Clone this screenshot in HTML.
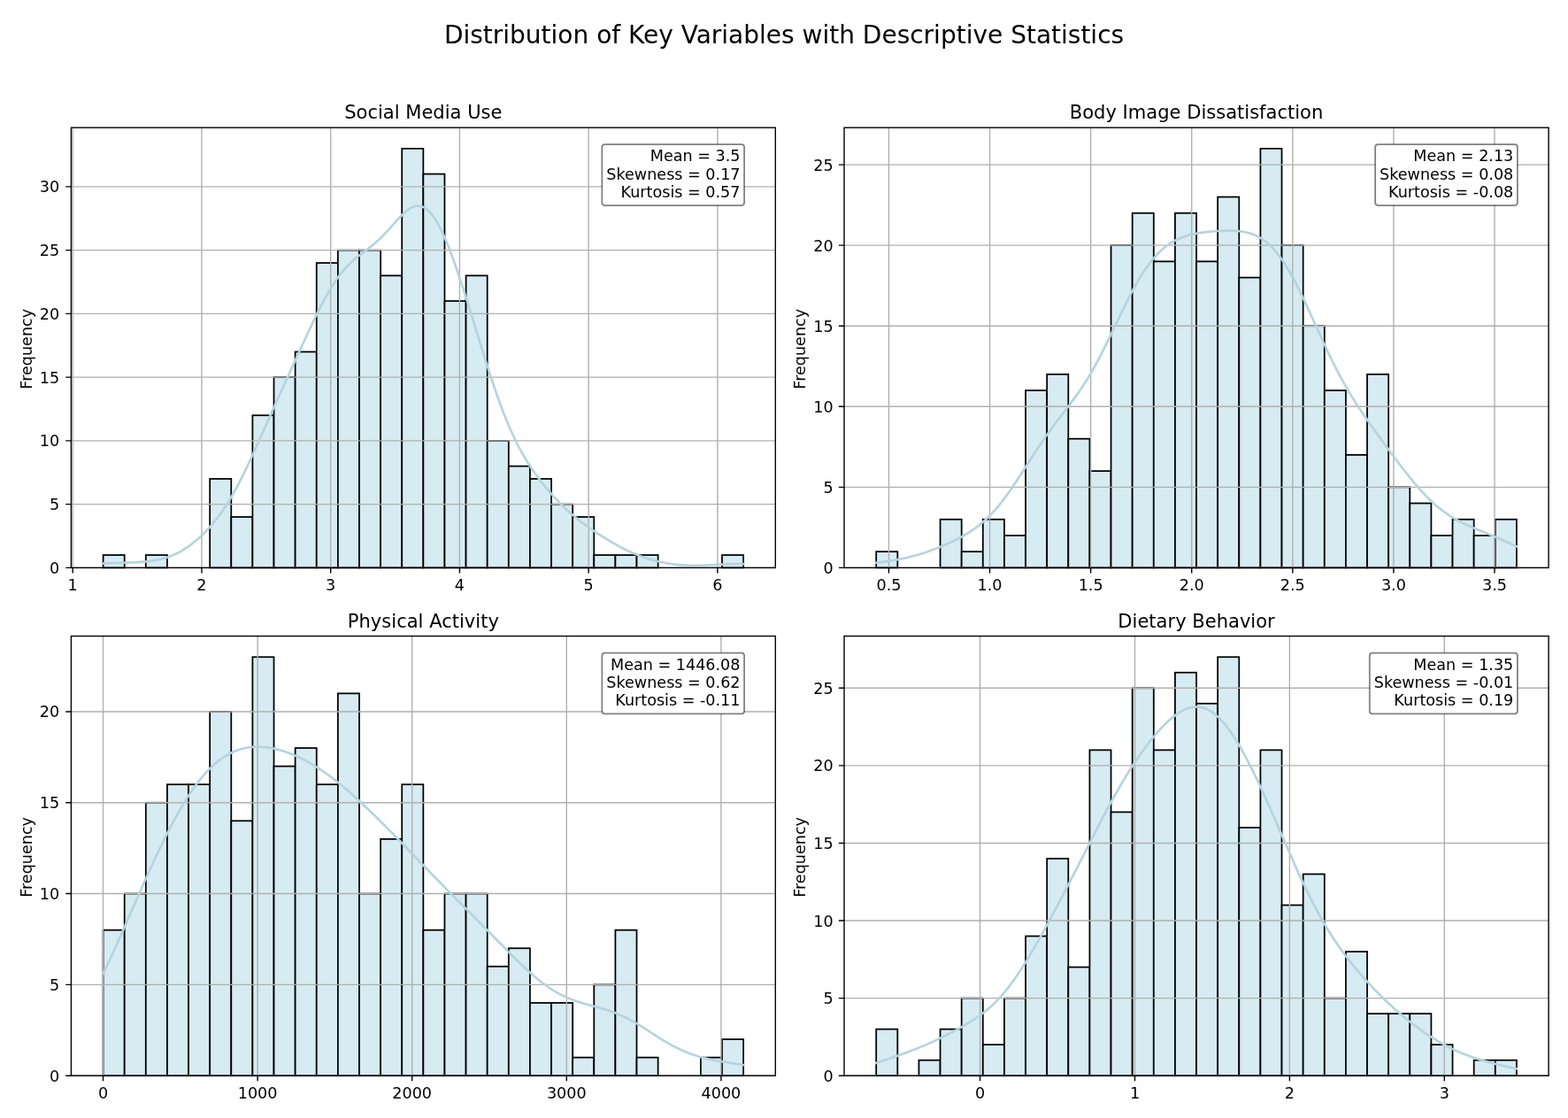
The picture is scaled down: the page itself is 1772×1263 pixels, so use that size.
<!DOCTYPE html>
<html><head><meta charset="utf-8"><title>Distribution of Key Variables with Descriptive Statistics</title>
<style>html,body{margin:0;padding:0;background:#fff;} svg text{font-family:"DejaVu Sans", "Liberation Sans", sans-serif;}</style>
</head><body>
<svg width="1772" height="1263" viewBox="0 0 1772 1263" style="display:block">
<rect x="0" y="0" width="1772" height="1263" fill="#fff"/>
<text x="886" y="49.2" text-anchor="middle" font-size="28.0" fill="#000">Distribution of Key Variables with Descriptive Statistics</text>
<g fill="rgb(214,235,242)" stroke="#000" stroke-width="1.76"><rect x="116.58" y="627.05" width="24.12" height="14.35"/><rect x="164.81" y="627.05" width="24.12" height="14.35"/><rect x="237.17" y="540.96" width="24.12" height="100.44"/><rect x="261.29" y="584" width="24.12" height="57.4"/><rect x="285.4" y="469.21" width="24.12" height="172.19"/><rect x="309.52" y="426.16" width="24.12" height="215.24"/><rect x="333.64" y="397.46" width="24.12" height="243.94"/><rect x="357.76" y="297.02" width="24.12" height="344.38"/><rect x="381.88" y="282.67" width="24.12" height="358.73"/><rect x="406" y="282.67" width="24.12" height="358.73"/><rect x="430.11" y="311.37" width="24.12" height="330.03"/><rect x="454.23" y="167.88" width="24.12" height="473.52"/><rect x="478.35" y="196.57" width="24.12" height="444.83"/><rect x="502.47" y="340.07" width="24.12" height="301.33"/><rect x="526.59" y="311.37" width="24.12" height="330.03"/><rect x="550.7" y="497.91" width="24.12" height="143.49"/><rect x="574.82" y="526.61" width="24.12" height="114.79"/><rect x="598.94" y="540.96" width="24.12" height="100.44"/><rect x="623.06" y="569.65" width="24.12" height="71.75"/><rect x="647.18" y="584" width="24.12" height="57.4"/><rect x="671.3" y="627.05" width="24.12" height="14.35"/><rect x="695.41" y="627.05" width="24.12" height="14.35"/><rect x="719.53" y="627.05" width="24.12" height="14.35"/><rect x="816" y="627.05" width="24.12" height="14.35"/></g>
<path d="M82.2 144.2V641.4M227.94 144.2V641.4M373.68 144.2V641.4M519.42 144.2V641.4M665.16 144.2V641.4M810.9 144.2V641.4M80.4 641.4H876.3M80.4 569.65H876.3M80.4 497.91H876.3M80.4 426.16H876.3M80.4 354.42H876.3M80.4 282.67H876.3M80.4 210.92H876.3" stroke="#b0b0b0" stroke-width="1.4" fill="none"/>
<path d="M116.58 636.52 L120.21 636.36 L123.85 636.21 L127.48 636.1 L131.12 636 L134.76 635.91 L138.39 635.83 L142.03 635.74 L145.66 635.63 L149.3 635.51 L152.94 635.35 L156.57 635.15 L160.21 634.89 L163.84 634.57 L167.48 634.17 L171.12 633.69 L174.75 633.1 L178.39 632.4 L182.02 631.57 L185.66 630.59 L189.3 629.45 L192.93 628.14 L196.57 626.65 L200.2 624.96 L203.84 623.06 L207.47 620.95 L211.11 618.63 L214.75 616.09 L218.38 613.33 L222.02 610.35 L225.65 607.14 L229.29 603.7 L232.93 600.03 L236.56 596.11 L240.2 591.93 L243.83 587.47 L247.47 582.71 L251.11 577.65 L254.74 572.25 L258.38 566.51 L262.01 560.43 L265.65 554 L269.29 547.24 L272.92 540.18 L276.56 532.83 L280.19 525.23 L283.83 517.44 L287.46 509.49 L291.1 501.43 L294.74 493.31 L298.37 485.15 L302.01 477 L305.64 468.88 L309.28 460.79 L312.92 452.74 L316.55 444.73 L320.19 436.75 L323.82 428.79 L327.46 420.83 L331.1 412.87 L334.73 404.91 L338.37 396.95 L342 389.01 L345.64 381.11 L349.28 373.27 L352.91 365.55 L356.55 357.99 L360.18 350.63 L363.82 343.53 L367.45 336.73 L371.09 330.28 L374.73 324.21 L378.36 318.56 L382 313.33 L385.63 308.54 L389.27 304.18 L392.91 300.22 L396.54 296.62 L400.18 293.34 L403.81 290.3 L407.45 287.44 L411.09 284.68 L414.72 281.93 L418.36 279.12 L421.99 276.19 L425.63 273.07 L429.27 269.73 L432.9 266.15 L436.54 262.36 L440.17 258.39 L443.81 254.32 L447.44 250.23 L451.08 246.25 L454.72 242.52 L458.35 239.17 L461.99 236.36 L465.62 234.23 L469.26 232.91 L472.9 232.52 L476.53 233.13 L480.17 234.82 L483.8 237.61 L487.44 241.5 L491.08 246.46 L494.71 252.44 L498.35 259.37 L501.98 267.18 L505.62 275.76 L509.26 285.04 L512.89 294.9 L516.53 305.27 L520.16 316.06 L523.8 327.2 L527.43 338.61 L531.07 350.21 L534.71 361.95 L538.34 373.76 L541.98 385.56 L545.61 397.28 L549.25 408.86 L552.89 420.22 L556.52 431.28 L560.16 441.99 L563.79 452.28 L567.43 462.11 L571.07 471.44 L574.7 480.25 L578.34 488.52 L581.97 496.28 L585.61 503.54 L589.25 510.32 L592.88 516.67 L596.52 522.63 L600.15 528.24 L603.79 533.56 L607.42 538.6 L611.06 543.42 L614.7 548.04 L618.33 552.46 L621.97 556.72 L625.6 560.81 L629.24 564.74 L632.88 568.52 L636.51 572.13 L640.15 575.59 L643.78 578.9 L647.42 582.06 L651.06 585.08 L654.69 587.97 L658.33 590.75 L661.96 593.43 L665.6 596.02 L669.24 598.53 L672.87 600.97 L676.51 603.35 L680.14 605.68 L683.78 607.95 L687.41 610.17 L691.05 612.32 L694.69 614.42 L698.32 616.45 L701.96 618.4 L705.59 620.27 L709.23 622.05 L712.87 623.74 L716.5 625.34 L720.14 626.84 L723.77 628.24 L727.41 629.55 L731.05 630.76 L734.68 631.88 L738.32 632.91 L741.95 633.84 L745.59 634.7 L749.23 635.47 L752.86 636.15 L756.5 636.76 L760.13 637.29 L763.77 637.74 L767.4 638.11 L771.04 638.41 L774.68 638.64 L778.31 638.79 L781.95 638.88 L785.58 638.91 L789.22 638.87 L792.86 638.79 L796.49 638.65 L800.13 638.49 L803.76 638.3 L807.4 638.09 L811.04 637.88 L814.67 637.67 L818.31 637.49 L821.94 637.33 L825.58 637.2 L829.22 637.12 L832.85 637.09 L836.49 637.11 L840.12 637.17" stroke="rgb(180,212,222)" stroke-width="2.64" fill="none" stroke-linecap="square" stroke-linejoin="round"/>
<rect x="80.4" y="144.2" width="795.9" height="497.2" fill="none" stroke="#000" stroke-width="1.4" stroke-linecap="square"/>
<path d="M82.2 641.4v6.15M227.94 641.4v6.15M373.68 641.4v6.15M519.42 641.4v6.15M665.16 641.4v6.15M810.9 641.4v6.15M80.4 641.4h-6.15M80.4 569.65h-6.15M80.4 497.91h-6.15M80.4 426.16h-6.15M80.4 354.42h-6.15M80.4 282.67h-6.15M80.4 210.92h-6.15" stroke="#000" stroke-width="1.4" fill="none"/>
<g font-size="17.58" fill="#000"><text x="82.2" y="667.2" text-anchor="middle">1</text><text x="227.94" y="667.2" text-anchor="middle">2</text><text x="373.68" y="667.2" text-anchor="middle">3</text><text x="519.42" y="667.2" text-anchor="middle">4</text><text x="665.16" y="667.2" text-anchor="middle">5</text><text x="810.9" y="667.2" text-anchor="middle">6</text><text x="67.1" y="647.9" text-anchor="end">0</text><text x="67.1" y="576.15" text-anchor="end">5</text><text x="67.1" y="504.41" text-anchor="end">10</text><text x="67.1" y="432.66" text-anchor="end">15</text><text x="67.1" y="360.92" text-anchor="end">20</text><text x="67.1" y="289.17" text-anchor="end">25</text><text x="67.1" y="217.42" text-anchor="end">30</text></g>
<text x="478.35" y="134.2" text-anchor="middle" font-size="21.05" fill="#000">Social Media Use</text>
<text transform="translate(36.1 394.3) rotate(-90)" x="0" y="0" text-anchor="middle" font-size="17.58" fill="#000">Frequency</text>
<path d="M683.57 163.16H837.9Q841.1 163.16 841.1 166.36V228.86Q841.1 232.06 837.9 232.06H683.57Q680.37 232.06 680.37 228.86V166.36Q680.37 163.16 683.57 163.16Z" fill="#fff" stroke="#000" stroke-opacity="0.5" stroke-width="1.76"/>
<g font-size="17.58" fill="#000"><text x="836.5" y="182.46" text-anchor="end">Mean = 3.5</text><text x="836.5" y="202.66" text-anchor="end">Skewness = 0.17</text><text x="836.5" y="222.86" text-anchor="end">Kurtosis = 0.57</text></g>
<g fill="rgb(214,235,242)" stroke="#000" stroke-width="1.76"><rect x="990.19" y="623.19" width="24.12" height="18.21"/><rect x="1062.56" y="586.76" width="24.12" height="54.64"/><rect x="1086.68" y="623.19" width="24.12" height="18.21"/><rect x="1110.81" y="586.76" width="24.12" height="54.64"/><rect x="1134.93" y="604.98" width="24.12" height="36.42"/><rect x="1159.06" y="441.06" width="24.12" height="200.34"/><rect x="1183.18" y="422.85" width="24.12" height="218.55"/><rect x="1207.3" y="495.7" width="24.12" height="145.7"/><rect x="1231.43" y="532.13" width="24.12" height="109.27"/><rect x="1255.55" y="277.15" width="24.12" height="364.25"/><rect x="1279.68" y="240.73" width="24.12" height="400.67"/><rect x="1303.8" y="295.36" width="24.12" height="346.04"/><rect x="1327.93" y="240.73" width="24.12" height="400.67"/><rect x="1352.05" y="295.36" width="24.12" height="346.04"/><rect x="1376.17" y="222.51" width="24.12" height="418.89"/><rect x="1400.3" y="313.58" width="24.12" height="327.82"/><rect x="1424.42" y="167.88" width="24.12" height="473.52"/><rect x="1448.55" y="277.15" width="24.12" height="364.25"/><rect x="1472.67" y="368.21" width="24.12" height="273.19"/><rect x="1496.8" y="441.06" width="24.12" height="200.34"/><rect x="1520.92" y="513.91" width="24.12" height="127.49"/><rect x="1545.04" y="422.85" width="24.12" height="218.55"/><rect x="1569.17" y="550.34" width="24.12" height="91.06"/><rect x="1593.29" y="568.55" width="24.12" height="72.85"/><rect x="1617.42" y="604.98" width="24.12" height="36.42"/><rect x="1641.54" y="586.76" width="24.12" height="54.64"/><rect x="1665.67" y="604.98" width="24.12" height="36.42"/><rect x="1689.79" y="586.76" width="24.12" height="54.64"/></g>
<path d="M1004.45 144.2V641.4M1118.54 144.2V641.4M1232.63 144.2V641.4M1346.72 144.2V641.4M1460.82 144.2V641.4M1574.91 144.2V641.4M1689 144.2V641.4M954 641.4H1750.1M954 550.34H1750.1M954 459.28H1750.1M954 368.21H1750.1M954 277.15H1750.1M954 186.09H1750.1" stroke="#b0b0b0" stroke-width="1.4" fill="none"/>
<path d="M990.19 635.79 L993.82 635.34 L997.46 634.86 L1001.1 634.35 L1004.73 633.81 L1008.37 633.22 L1012.01 632.6 L1015.64 631.92 L1019.28 631.19 L1022.92 630.41 L1026.55 629.56 L1030.19 628.65 L1033.83 627.68 L1037.47 626.65 L1041.1 625.55 L1044.74 624.39 L1048.38 623.16 L1052.01 621.88 L1055.65 620.53 L1059.29 619.13 L1062.92 617.67 L1066.56 616.15 L1070.2 614.56 L1073.83 612.91 L1077.47 611.19 L1081.11 609.39 L1084.74 607.5 L1088.38 605.5 L1092.02 603.38 L1095.65 601.12 L1099.29 598.7 L1102.93 596.1 L1106.56 593.31 L1110.2 590.3 L1113.84 587.06 L1117.48 583.57 L1121.11 579.83 L1124.75 575.83 L1128.39 571.56 L1132.02 567.05 L1135.66 562.29 L1139.3 557.31 L1142.93 552.13 L1146.57 546.78 L1150.21 541.29 L1153.84 535.7 L1157.48 530.05 L1161.12 524.37 L1164.75 518.7 L1168.39 513.09 L1172.03 507.55 L1175.66 502.11 L1179.3 496.79 L1182.94 491.59 L1186.57 486.53 L1190.21 481.58 L1193.85 476.73 L1197.49 471.96 L1201.12 467.22 L1204.76 462.49 L1208.4 457.72 L1212.03 452.86 L1215.67 447.87 L1219.31 442.71 L1222.94 437.34 L1226.58 431.73 L1230.22 425.86 L1233.85 419.71 L1237.49 413.29 L1241.13 406.59 L1244.76 399.64 L1248.4 392.46 L1252.04 385.11 L1255.67 377.61 L1259.31 370.03 L1262.95 362.43 L1266.58 354.86 L1270.22 347.39 L1273.86 340.07 L1277.5 332.97 L1281.13 326.13 L1284.77 319.6 L1288.41 313.42 L1292.04 307.62 L1295.68 302.22 L1299.32 297.23 L1302.95 292.65 L1306.59 288.5 L1310.23 284.75 L1313.86 281.39 L1317.5 278.41 L1321.14 275.77 L1324.77 273.46 L1328.41 271.45 L1332.05 269.71 L1335.68 268.21 L1339.32 266.92 L1342.96 265.82 L1346.59 264.88 L1350.23 264.09 L1353.87 263.41 L1357.51 262.83 L1361.14 262.34 L1364.78 261.92 L1368.42 261.57 L1372.05 261.27 L1375.69 261.02 L1379.33 260.82 L1382.96 260.68 L1386.6 260.6 L1390.24 260.6 L1393.87 260.69 L1397.51 260.89 L1401.15 261.23 L1404.78 261.74 L1408.42 262.44 L1412.06 263.38 L1415.69 264.58 L1419.33 266.09 L1422.97 267.94 L1426.6 270.17 L1430.24 272.81 L1433.88 275.88 L1437.52 279.42 L1441.15 283.42 L1444.79 287.91 L1448.43 292.88 L1452.06 298.32 L1455.7 304.22 L1459.34 310.54 L1462.97 317.25 L1466.61 324.32 L1470.25 331.68 L1473.88 339.3 L1477.52 347.1 L1481.16 355.04 L1484.79 363.05 L1488.43 371.07 L1492.07 379.06 L1495.7 386.96 L1499.34 394.72 L1502.98 402.31 L1506.61 409.71 L1510.25 416.87 L1513.89 423.81 L1517.53 430.5 L1521.16 436.94 L1524.8 443.16 L1528.44 449.15 L1532.07 454.95 L1535.71 460.56 L1539.35 466.02 L1542.98 471.35 L1546.62 476.57 L1550.26 481.72 L1553.89 486.79 L1557.53 491.83 L1561.17 496.83 L1564.8 501.8 L1568.44 506.75 L1572.08 511.67 L1575.71 516.57 L1579.35 521.43 L1582.99 526.24 L1586.62 530.98 L1590.26 535.64 L1593.9 540.2 L1597.54 544.63 L1601.17 548.94 L1604.81 553.09 L1608.45 557.07 L1612.08 560.87 L1615.72 564.49 L1619.36 567.91 L1622.99 571.13 L1626.63 574.15 L1630.27 576.98 L1633.9 579.62 L1637.54 582.08 L1641.18 584.37 L1644.81 586.5 L1648.45 588.49 L1652.09 590.36 L1655.72 592.11 L1659.36 593.78 L1663 595.38 L1666.63 596.92 L1670.27 598.43 L1673.91 599.91 L1677.55 601.39 L1681.18 602.88 L1684.82 604.37 L1688.46 605.9 L1692.09 607.45 L1695.73 609.03 L1699.37 610.64 L1703 612.28 L1706.64 613.95 L1710.28 615.63 L1713.91 617.32" stroke="rgb(180,212,222)" stroke-width="2.64" fill="none" stroke-linecap="square" stroke-linejoin="round"/>
<rect x="954" y="144.2" width="796.1" height="497.2" fill="none" stroke="#000" stroke-width="1.4" stroke-linecap="square"/>
<path d="M1004.45 641.4v6.15M1118.54 641.4v6.15M1232.63 641.4v6.15M1346.72 641.4v6.15M1460.82 641.4v6.15M1574.91 641.4v6.15M1689 641.4v6.15M954 641.4h-6.15M954 550.34h-6.15M954 459.28h-6.15M954 368.21h-6.15M954 277.15h-6.15M954 186.09h-6.15" stroke="#000" stroke-width="1.4" fill="none"/>
<g font-size="17.58" fill="#000"><text x="1004.45" y="667.2" text-anchor="middle">0.5</text><text x="1118.54" y="667.2" text-anchor="middle">1.0</text><text x="1232.63" y="667.2" text-anchor="middle">1.5</text><text x="1346.72" y="667.2" text-anchor="middle">2.0</text><text x="1460.82" y="667.2" text-anchor="middle">2.5</text><text x="1574.91" y="667.2" text-anchor="middle">3.0</text><text x="1689" y="667.2" text-anchor="middle">3.5</text><text x="941.7" y="647.9" text-anchor="end">0</text><text x="941.7" y="556.84" text-anchor="end">5</text><text x="941.7" y="465.78" text-anchor="end">10</text><text x="941.7" y="374.71" text-anchor="end">15</text><text x="941.7" y="283.65" text-anchor="end">20</text><text x="941.7" y="192.59" text-anchor="end">25</text></g>
<text x="1352.05" y="134.2" text-anchor="middle" font-size="21.05" fill="#000">Body Image Dissatisfaction</text>
<text transform="translate(909.7 394.3) rotate(-90)" x="0" y="0" text-anchor="middle" font-size="17.58" fill="#000">Frequency</text>
<path d="M1557.36 163.16H1711.69Q1714.89 163.16 1714.89 166.36V228.86Q1714.89 232.06 1711.69 232.06H1557.36Q1554.16 232.06 1554.16 228.86V166.36Q1554.16 163.16 1557.36 163.16Z" fill="#fff" stroke="#000" stroke-opacity="0.5" stroke-width="1.76"/>
<g font-size="17.58" fill="#000"><text x="1710.29" y="182.46" text-anchor="end">Mean = 2.13</text><text x="1710.29" y="202.66" text-anchor="end">Skewness = 0.08</text><text x="1710.29" y="222.86" text-anchor="end">Kurtosis = -0.08</text></g>
<g fill="rgb(214,235,242)" stroke="#000" stroke-width="1.76"><rect x="116.58" y="1050.69" width="24.12" height="164.51"/><rect x="140.7" y="1009.57" width="24.12" height="205.63"/><rect x="164.81" y="906.75" width="24.12" height="308.45"/><rect x="188.93" y="886.19" width="24.12" height="329.01"/><rect x="213.05" y="886.19" width="24.12" height="329.01"/><rect x="237.17" y="803.94" width="24.12" height="411.26"/><rect x="261.29" y="927.32" width="24.12" height="287.88"/><rect x="285.4" y="742.25" width="24.12" height="472.95"/><rect x="309.52" y="865.63" width="24.12" height="349.57"/><rect x="333.64" y="845.06" width="24.12" height="370.14"/><rect x="357.76" y="886.19" width="24.12" height="329.01"/><rect x="381.88" y="783.37" width="24.12" height="431.83"/><rect x="406" y="1009.57" width="24.12" height="205.63"/><rect x="430.11" y="947.88" width="24.12" height="267.32"/><rect x="454.23" y="886.19" width="24.12" height="329.01"/><rect x="478.35" y="1050.69" width="24.12" height="164.51"/><rect x="502.47" y="1009.57" width="24.12" height="205.63"/><rect x="526.59" y="1009.57" width="24.12" height="205.63"/><rect x="550.7" y="1091.82" width="24.12" height="123.38"/><rect x="574.82" y="1071.26" width="24.12" height="143.94"/><rect x="598.94" y="1132.95" width="24.12" height="82.25"/><rect x="623.06" y="1132.95" width="24.12" height="82.25"/><rect x="647.18" y="1194.64" width="24.12" height="20.56"/><rect x="671.3" y="1112.38" width="24.12" height="102.82"/><rect x="695.41" y="1050.69" width="24.12" height="164.51"/><rect x="719.53" y="1194.64" width="24.12" height="20.56"/><rect x="791.89" y="1194.64" width="24.12" height="20.56"/><rect x="816" y="1174.07" width="24.12" height="41.13"/></g>
<path d="M116.5 718.6V1215.2M291.1 718.6V1215.2M465.7 718.6V1215.2M640.3 718.6V1215.2M814.9 718.6V1215.2M80.4 1215.2H876.3M80.4 1112.38H876.3M80.4 1009.57H876.3M80.4 906.75H876.3M80.4 803.94H876.3" stroke="#b0b0b0" stroke-width="1.4" fill="none"/>
<path d="M116.58 1100.08 L120.21 1092.44 L123.85 1084.65 L127.48 1076.73 L131.12 1068.7 L134.76 1060.58 L138.39 1052.4 L142.03 1044.16 L145.66 1035.89 L149.3 1027.62 L152.94 1019.35 L156.57 1011.1 L160.21 1002.9 L163.84 994.76 L167.48 986.7 L171.12 978.73 L174.75 970.87 L178.39 963.15 L182.02 955.56 L185.66 948.14 L189.3 940.89 L192.93 933.84 L196.57 927 L200.2 920.38 L203.84 913.99 L207.47 907.86 L211.11 901.98 L214.75 896.38 L218.38 891.06 L222.02 886.03 L225.65 881.29 L229.29 876.85 L232.93 872.71 L236.56 868.87 L240.2 865.33 L243.83 862.09 L247.47 859.14 L251.11 856.48 L254.74 854.1 L258.38 851.99 L262.01 850.14 L265.65 848.55 L269.29 847.21 L272.92 846.1 L276.56 845.21 L280.19 844.53 L283.83 844.06 L287.46 843.78 L291.1 843.68 L294.74 843.75 L298.37 844 L302.01 844.4 L305.64 844.95 L309.28 845.64 L312.92 846.47 L316.55 847.44 L320.19 848.53 L323.82 849.74 L327.46 851.08 L331.1 852.53 L334.73 854.09 L338.37 855.77 L342 857.55 L345.64 859.45 L349.28 861.45 L352.91 863.55 L356.55 865.76 L360.18 868.07 L363.82 870.48 L367.45 872.98 L371.09 875.59 L374.73 878.28 L378.36 881.06 L382 883.93 L385.63 886.89 L389.27 889.92 L392.91 893.02 L396.54 896.19 L400.18 899.43 L403.81 902.73 L407.45 906.08 L411.09 909.48 L414.72 912.93 L418.36 916.42 L421.99 919.95 L425.63 923.52 L429.27 927.11 L432.9 930.74 L436.54 934.39 L440.17 938.06 L443.81 941.76 L447.44 945.48 L451.08 949.21 L454.72 952.96 L458.35 956.72 L461.99 960.49 L465.62 964.28 L469.26 968.06 L472.9 971.85 L476.53 975.64 L480.17 979.42 L483.8 983.19 L487.44 986.96 L491.08 990.72 L494.71 994.46 L498.35 998.18 L501.98 1001.89 L505.62 1005.59 L509.26 1009.27 L512.89 1012.94 L516.53 1016.59 L520.16 1020.24 L523.8 1023.88 L527.43 1027.51 L531.07 1031.15 L534.71 1034.79 L538.34 1038.44 L541.98 1042.09 L545.61 1045.76 L549.25 1049.43 L552.89 1053.12 L556.52 1056.82 L560.16 1060.52 L563.79 1064.23 L567.43 1067.94 L571.07 1071.64 L574.7 1075.32 L578.34 1078.98 L581.97 1082.6 L585.61 1086.18 L589.25 1089.69 L592.88 1093.14 L596.52 1096.5 L600.15 1099.77 L603.79 1102.93 L607.42 1105.97 L611.06 1108.87 L614.7 1111.64 L618.33 1114.25 L621.97 1116.72 L625.6 1119.02 L629.24 1121.17 L632.88 1123.15 L636.51 1124.98 L640.15 1126.66 L643.78 1128.2 L647.42 1129.61 L651.06 1130.9 L654.69 1132.09 L658.33 1133.19 L661.96 1134.24 L665.6 1135.24 L669.24 1136.22 L672.87 1137.19 L676.51 1138.19 L680.14 1139.22 L683.78 1140.31 L687.41 1141.48 L691.05 1142.73 L694.69 1144.09 L698.32 1145.56 L701.96 1147.14 L705.59 1148.83 L709.23 1150.64 L712.87 1152.56 L716.5 1154.59 L720.14 1156.71 L723.77 1158.9 L727.41 1161.16 L731.05 1163.46 L734.68 1165.8 L738.32 1168.14 L741.95 1170.46 L745.59 1172.76 L749.23 1175.02 L752.86 1177.2 L756.5 1179.31 L760.13 1181.33 L763.77 1183.24 L767.4 1185.04 L771.04 1186.73 L774.68 1188.3 L778.31 1189.75 L781.95 1191.08 L785.58 1192.3 L789.22 1193.42 L792.86 1194.44 L796.49 1195.37 L800.13 1196.22 L803.76 1197 L807.4 1197.72 L811.04 1198.39 L814.67 1199.03 L818.31 1199.64 L821.94 1200.23 L825.58 1200.81 L829.22 1201.38 L832.85 1201.95 L836.49 1202.52 L840.12 1203.1" stroke="rgb(180,212,222)" stroke-width="2.64" fill="none" stroke-linecap="square" stroke-linejoin="round"/>
<rect x="80.4" y="718.6" width="795.9" height="496.6" fill="none" stroke="#000" stroke-width="1.4" stroke-linecap="square"/>
<path d="M116.5 1215.2v6.15M291.1 1215.2v6.15M465.7 1215.2v6.15M640.3 1215.2v6.15M814.9 1215.2v6.15M80.4 1215.2h-6.15M80.4 1112.38h-6.15M80.4 1009.57h-6.15M80.4 906.75h-6.15M80.4 803.94h-6.15" stroke="#000" stroke-width="1.4" fill="none"/>
<g font-size="17.58" fill="#000"><text x="116.5" y="1241" text-anchor="middle">0</text><text x="291.1" y="1241" text-anchor="middle">1000</text><text x="465.7" y="1241" text-anchor="middle">2000</text><text x="640.3" y="1241" text-anchor="middle">3000</text><text x="814.9" y="1241" text-anchor="middle">4000</text><text x="67.1" y="1221.7" text-anchor="end">0</text><text x="67.1" y="1118.88" text-anchor="end">5</text><text x="67.1" y="1016.07" text-anchor="end">10</text><text x="67.1" y="913.25" text-anchor="end">15</text><text x="67.1" y="810.44" text-anchor="end">20</text></g>
<text x="478.35" y="708.6" text-anchor="middle" font-size="21.05" fill="#000">Physical Activity</text>
<text transform="translate(36.1 968.4) rotate(-90)" x="0" y="0" text-anchor="middle" font-size="17.58" fill="#000">Frequency</text>
<path d="M683.57 737.53H837.9Q841.1 737.53 841.1 740.73V803.23Q841.1 806.43 837.9 806.43H683.57Q680.37 806.43 680.37 803.23V740.73Q680.37 737.53 683.57 737.53Z" fill="#fff" stroke="#000" stroke-opacity="0.5" stroke-width="1.76"/>
<g font-size="17.58" fill="#000"><text x="836.5" y="756.83" text-anchor="end">Mean = 1446.08</text><text x="836.5" y="777.03" text-anchor="end">Skewness = 0.62</text><text x="836.5" y="797.23" text-anchor="end">Kurtosis = -0.11</text></g>
<g fill="rgb(214,235,242)" stroke="#000" stroke-width="1.76"><rect x="990.19" y="1162.65" width="24.12" height="52.55"/><rect x="1038.43" y="1197.68" width="24.12" height="17.52"/><rect x="1062.56" y="1162.65" width="24.12" height="52.55"/><rect x="1086.68" y="1127.62" width="24.12" height="87.58"/><rect x="1110.81" y="1180.17" width="24.12" height="35.03"/><rect x="1134.93" y="1127.62" width="24.12" height="87.58"/><rect x="1159.06" y="1057.55" width="24.12" height="157.65"/><rect x="1183.18" y="969.97" width="24.12" height="245.23"/><rect x="1207.3" y="1092.58" width="24.12" height="122.62"/><rect x="1231.43" y="847.35" width="24.12" height="367.85"/><rect x="1255.55" y="917.42" width="24.12" height="297.78"/><rect x="1279.68" y="777.28" width="24.12" height="437.92"/><rect x="1303.8" y="847.35" width="24.12" height="367.85"/><rect x="1327.93" y="759.76" width="24.12" height="455.44"/><rect x="1352.05" y="794.8" width="24.12" height="420.4"/><rect x="1376.17" y="742.25" width="24.12" height="472.95"/><rect x="1400.3" y="934.93" width="24.12" height="280.27"/><rect x="1424.42" y="847.35" width="24.12" height="367.85"/><rect x="1448.55" y="1022.52" width="24.12" height="192.68"/><rect x="1472.67" y="987.48" width="24.12" height="227.72"/><rect x="1496.8" y="1127.62" width="24.12" height="87.58"/><rect x="1520.92" y="1075.07" width="24.12" height="140.13"/><rect x="1545.04" y="1145.13" width="24.12" height="70.07"/><rect x="1569.17" y="1145.13" width="24.12" height="70.07"/><rect x="1593.29" y="1145.13" width="24.12" height="70.07"/><rect x="1617.42" y="1180.17" width="24.12" height="35.03"/><rect x="1665.67" y="1197.68" width="24.12" height="17.52"/><rect x="1689.79" y="1197.68" width="24.12" height="17.52"/></g>
<path d="M1107.55 718.6V1215.2M1282.47 718.6V1215.2M1457.38 718.6V1215.2M1632.3 718.6V1215.2M954 1215.2H1750.1M954 1127.62H1750.1M954 1040.03H1750.1M954 952.45H1750.1M954 864.86H1750.1M954 777.28H1750.1" stroke="#b0b0b0" stroke-width="1.4" fill="none"/>
<path d="M990.19 1200.84 L993.82 1199.66 L997.46 1198.45 L1001.1 1197.22 L1004.73 1195.98 L1008.37 1194.73 L1012.01 1193.46 L1015.64 1192.18 L1019.28 1190.88 L1022.92 1189.56 L1026.55 1188.21 L1030.19 1186.84 L1033.83 1185.43 L1037.47 1183.98 L1041.1 1182.49 L1044.74 1180.96 L1048.38 1179.39 L1052.01 1177.77 L1055.65 1176.1 L1059.29 1174.4 L1062.92 1172.65 L1066.56 1170.87 L1070.2 1169.04 L1073.83 1167.18 L1077.47 1165.28 L1081.11 1163.33 L1084.74 1161.34 L1088.38 1159.29 L1092.02 1157.17 L1095.65 1154.98 L1099.29 1152.69 L1102.93 1150.28 L1106.56 1147.74 L1110.2 1145.05 L1113.84 1142.19 L1117.48 1139.13 L1121.11 1135.86 L1124.75 1132.36 L1128.39 1128.62 L1132.02 1124.62 L1135.66 1120.37 L1139.3 1115.85 L1142.93 1111.08 L1146.57 1106.06 L1150.21 1100.79 L1153.84 1095.3 L1157.48 1089.6 L1161.12 1083.7 L1164.75 1077.64 L1168.39 1071.43 L1172.03 1065.08 L1175.66 1058.63 L1179.3 1052.08 L1182.94 1045.45 L1186.57 1038.75 L1190.21 1031.98 L1193.85 1025.17 L1197.49 1018.31 L1201.12 1011.4 L1204.76 1004.45 L1208.4 997.45 L1212.03 990.42 L1215.67 983.35 L1219.31 976.25 L1222.94 969.12 L1226.58 961.99 L1230.22 954.84 L1233.85 947.71 L1237.49 940.6 L1241.13 933.54 L1244.76 926.54 L1248.4 919.62 L1252.04 912.79 L1255.67 906.08 L1259.31 899.49 L1262.95 893.05 L1266.58 886.75 L1270.22 880.62 L1273.86 874.66 L1277.5 868.87 L1281.13 863.25 L1284.77 857.81 L1288.41 852.55 L1292.04 847.47 L1295.68 842.56 L1299.32 837.84 L1302.95 833.31 L1306.59 828.98 L1310.23 824.85 L1313.86 820.94 L1317.5 817.26 L1321.14 813.84 L1324.77 810.69 L1328.41 807.85 L1332.05 805.33 L1335.68 803.16 L1339.32 801.38 L1342.96 800 L1346.59 799.06 L1350.23 798.57 L1353.87 798.56 L1357.51 799.04 L1361.14 800.03 L1364.78 801.54 L1368.42 803.56 L1372.05 806.1 L1375.69 809.14 L1379.33 812.68 L1382.96 816.7 L1386.6 821.17 L1390.24 826.09 L1393.87 831.42 L1397.51 837.14 L1401.15 843.22 L1404.78 849.63 L1408.42 856.35 L1412.06 863.35 L1415.69 870.6 L1419.33 878.08 L1422.97 885.76 L1426.6 893.62 L1430.24 901.63 L1433.88 909.77 L1437.52 918.02 L1441.15 926.33 L1444.79 934.7 L1448.43 943.09 L1452.06 951.47 L1455.7 959.82 L1459.34 968.1 L1462.97 976.29 L1466.61 984.36 L1470.25 992.28 L1473.88 1000.03 L1477.52 1007.58 L1481.16 1014.93 L1484.79 1022.05 L1488.43 1028.94 L1492.07 1035.58 L1495.7 1041.98 L1499.34 1048.14 L1502.98 1054.05 L1506.61 1059.74 L1510.25 1065.2 L1513.89 1070.45 L1517.53 1075.51 L1521.16 1080.39 L1524.8 1085.11 L1528.44 1089.67 L1532.07 1094.09 L1535.71 1098.39 L1539.35 1102.58 L1542.98 1106.66 L1546.62 1110.64 L1550.26 1114.53 L1553.89 1118.34 L1557.53 1122.05 L1561.17 1125.69 L1564.8 1129.24 L1568.44 1132.71 L1572.08 1136.09 L1575.71 1139.4 L1579.35 1142.62 L1582.99 1145.76 L1586.62 1148.82 L1590.26 1151.8 L1593.9 1154.69 L1597.54 1157.51 L1601.17 1160.24 L1604.81 1162.9 L1608.45 1165.47 L1612.08 1167.97 L1615.72 1170.38 L1619.36 1172.71 L1622.99 1174.95 L1626.63 1177.11 L1630.27 1179.18 L1633.9 1181.16 L1637.54 1183.06 L1641.18 1184.86 L1644.81 1186.58 L1648.45 1188.2 L1652.09 1189.75 L1655.72 1191.21 L1659.36 1192.59 L1663 1193.89 L1666.63 1195.13 L1670.27 1196.3 L1673.91 1197.42 L1677.55 1198.49 L1681.18 1199.51 L1684.82 1200.49 L1688.46 1201.44 L1692.09 1202.35 L1695.73 1203.24 L1699.37 1204.1 L1703 1204.93 L1706.64 1205.74 L1710.28 1206.52 L1713.91 1207.28" stroke="rgb(180,212,222)" stroke-width="2.64" fill="none" stroke-linecap="square" stroke-linejoin="round"/>
<rect x="954" y="718.6" width="796.1" height="496.6" fill="none" stroke="#000" stroke-width="1.4" stroke-linecap="square"/>
<path d="M1107.55 1215.2v6.15M1282.47 1215.2v6.15M1457.38 1215.2v6.15M1632.3 1215.2v6.15M954 1215.2h-6.15M954 1127.62h-6.15M954 1040.03h-6.15M954 952.45h-6.15M954 864.86h-6.15M954 777.28h-6.15" stroke="#000" stroke-width="1.4" fill="none"/>
<g font-size="17.58" fill="#000"><text x="1107.55" y="1241" text-anchor="middle">0</text><text x="1282.47" y="1241" text-anchor="middle">1</text><text x="1457.38" y="1241" text-anchor="middle">2</text><text x="1632.3" y="1241" text-anchor="middle">3</text><text x="941.7" y="1221.7" text-anchor="end">0</text><text x="941.7" y="1134.12" text-anchor="end">5</text><text x="941.7" y="1046.53" text-anchor="end">10</text><text x="941.7" y="958.95" text-anchor="end">15</text><text x="941.7" y="871.36" text-anchor="end">20</text><text x="941.7" y="783.78" text-anchor="end">25</text></g>
<text x="1352.05" y="708.6" text-anchor="middle" font-size="21.05" fill="#000">Dietary Behavior</text>
<text transform="translate(909.7 968.4) rotate(-90)" x="0" y="0" text-anchor="middle" font-size="17.58" fill="#000">Frequency</text>
<path d="M1551.02 737.53H1711.69Q1714.89 737.53 1714.89 740.73V803.23Q1714.89 806.43 1711.69 806.43H1551.02Q1547.82 806.43 1547.82 803.23V740.73Q1547.82 737.53 1551.02 737.53Z" fill="#fff" stroke="#000" stroke-opacity="0.5" stroke-width="1.76"/>
<g font-size="17.58" fill="#000"><text x="1710.29" y="756.83" text-anchor="end">Mean = 1.35</text><text x="1710.29" y="777.03" text-anchor="end">Skewness = -0.01</text><text x="1710.29" y="797.23" text-anchor="end">Kurtosis = 0.19</text></g>
</svg>
</body></html>
